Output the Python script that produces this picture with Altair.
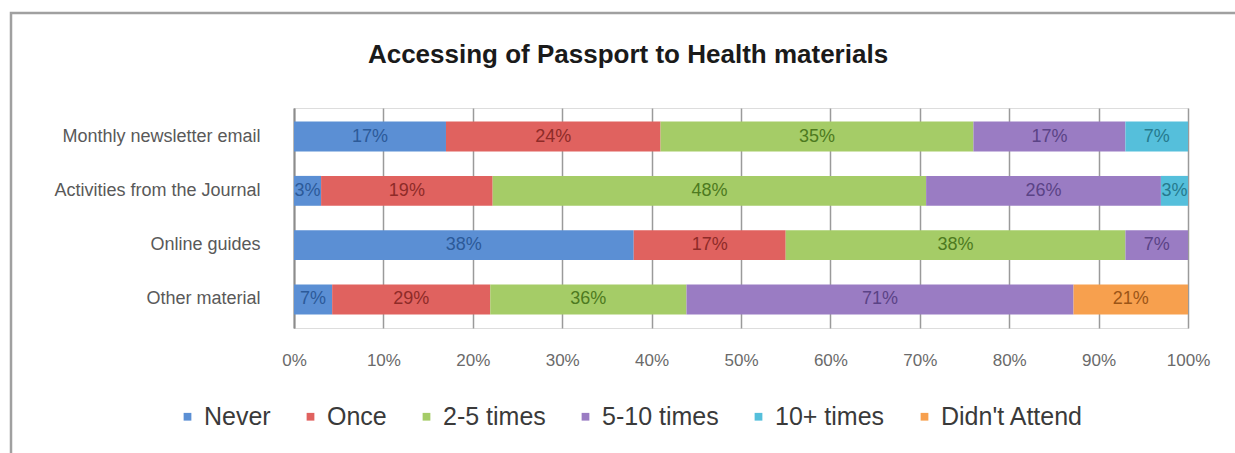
import altair as alt
import pandas as pd

materials = ["Monthly newsletter email", "Activities from the Journal", "Online guides", "Other material"]
series = ["Never", "Once", "2-5 times", "5-10 times", "10+ times", "Didn't Attend"]

never = [17, 3, 38, 7]
once = [24, 19, 17, 29]
two_five = [35, 48, 38, 36]
five_ten = [17, 26, 7, 71]
ten_plus = [7, 3, None, None]
didnt_attend = [None, None, None, 21]

bar_colors = ["#5b8fd4", "#e0625f", "#a5cc67", "#9a7cc3", "#55bfdb", "#f7a04e"]
label_colors = ["#2c5a99", "#8e2b28", "#4d7a20", "#5a4386", "#267a8e", "#9c5516"]

rows = []
for s_i, (s, vals) in enumerate(zip(series, [never, once, two_five, five_ten, ten_plus, didnt_attend])):
    for m, v in zip(materials, vals):
        if v is not None:
            rows.append({"material": m, "series": s, "order": s_i, "value": v, "label": f"{v}%"})
df = pd.DataFrame(rows)

FONT = "Liberation Sans"

base = alt.Chart(df).transform_stack(
    stack="value",
    as_=["x0", "x1"],
    groupby=["material"],
    sort=[alt.SortField("order", order="ascending")],
    offset="normalize",
).transform_calculate(xm="(datum.x0 + datum.x1) / 2")

y_enc = alt.Y(
    "material:N",
    sort=materials,
    title=None,
    scale=alt.Scale(paddingInner=0.45, paddingOuter=0.25),
    axis=alt.Axis(
        labelFont=FONT, labelFontSize=18, labelColor="#595959", labelPadding=34, labelLimit=400,
        ticks=False, domain=True, domainColor="#8c8c8c", domainWidth=2, grid=False,
    ),
)

bars = base.mark_bar(cornerRadius=0).encode(
    x=alt.X(
        "x0:Q",
        title=None,
        scale=alt.Scale(domain=[0, 1], nice=False),
        axis=alt.Axis(
            format=".0%", values=[i / 10 for i in range(11)], labelFont=FONT, labelFontSize=17,
            labelColor="#6a6a6a", labelPadding=24, labelFlush=False, ticks=False, domain=False,
            grid=True, gridColor="#9a9a9a", gridWidth=1.5,
        ),
    ),
    x2="x1:Q",
    y=y_enc,
    color=alt.Color(
        "series:N",
        sort=series,
        scale=alt.Scale(domain=series, range=bar_colors),
        legend=alt.Legend(
            title=None, orient="none", direction="horizontal", legendX=-119, legendY=296,
            labelFont=FONT, labelFontSize=25, labelColor="#3a3a3a", symbolType="square",
            symbolSize=60, symbolStrokeWidth=0, columnPadding=27, labelOffset=4,
            columns=6,
        ),
    ),
)

texts = base.mark_text(font=FONT, fontSize=18).encode(
    x=alt.X("xm:Q"),
    y=alt.Y("material:N", sort=materials),
    text="label:N",
    color=alt.Color("series:N", scale=alt.Scale(domain=series, range=label_colors), legend=None),
)

frame = alt.Chart(pd.DataFrame({"a": [0]})).mark_rect(
    fill=None, stroke="#a0a0a0", strokeWidth=2.5
).encode(x=alt.value(-283), x2=alt.value(1100), y=alt.value(-95), y2=alt.value(500))

chart = alt.layer(frame, bars, texts).resolve_scale(color="independent").properties(
    width=894,
    height=220,
    title=alt.Title(
        "Accessing of Passport to Health materials",
        font=FONT, fontSize=26, fontWeight="bold", color="#1a1a1a",
        anchor="middle", dx=-113, offset=-56,
    ),
    autosize=alt.AutoSizeParams(type="none"),
    padding={"left": 294, "top": 108, "right": 47, "bottom": 125},
).configure_view(stroke=None).configure(background="white")

chart.save("out.html", embed_options={"renderer": "svg", "actions": False})
